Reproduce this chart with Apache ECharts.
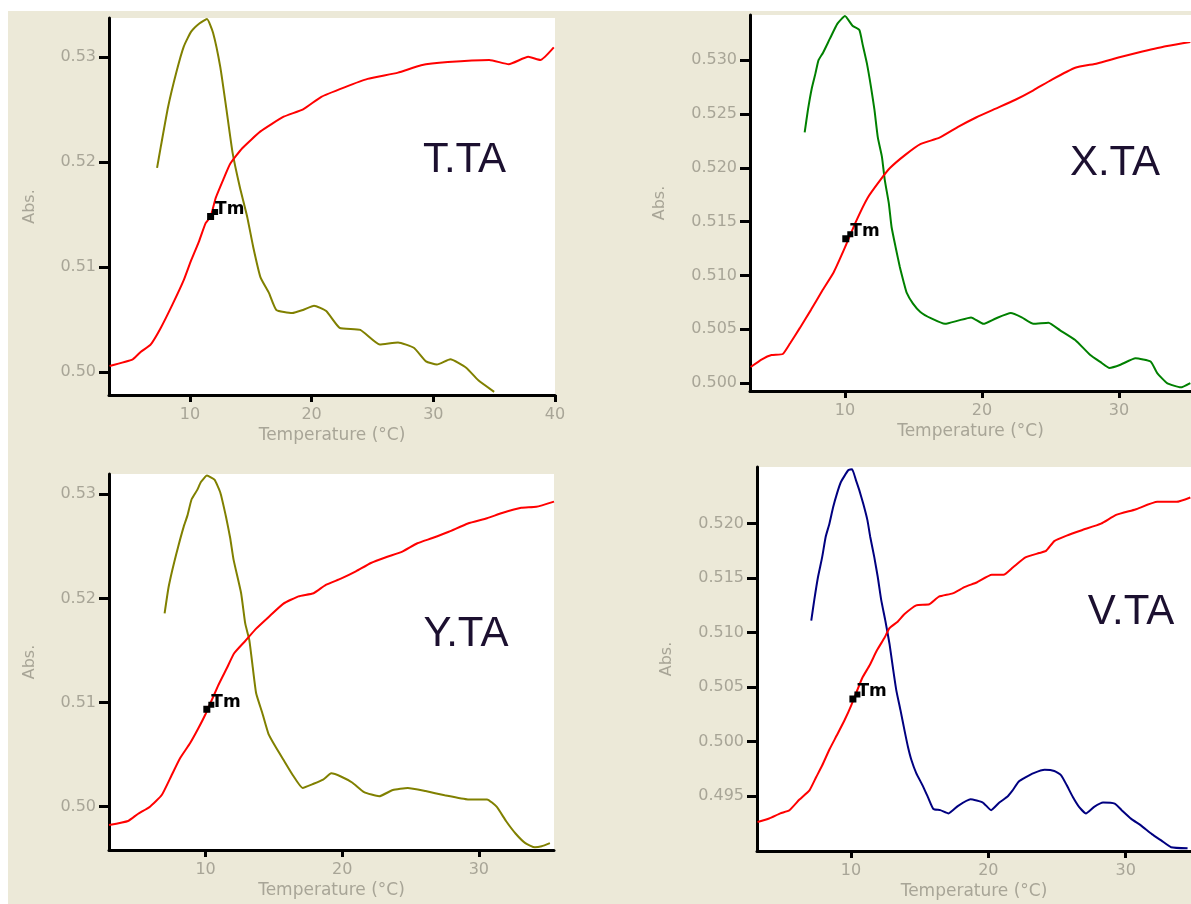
<!DOCTYPE html>
<html><head><meta charset="utf-8">
<script src="https://cdn.jsdelivr.net/npm/echarts@6/dist/echarts.min.js"></script>
<style>
html,body{margin:0;padding:0;background:#fff;width:1191px;height:904px;overflow:hidden}
#c{position:absolute;left:8px;top:11px;width:1183px;height:893px;background:#ECE9D8}
</style>
</head><body><div id="c"></div>
<script>
// ---------- data ----------
const panelNames = ['T.TA', 'X.TA', 'Y.TA', 'V.TA'];
const xAxisName = 'Temperature (°C)';
const yAxisName = 'Abs.';

const xTicks1 = [10, 20, 30, 40];
const xTicks2 = [10, 20, 30];
const xTicks3 = [10, 20, 30];
const xTicks4 = [10, 20, 30];
const yTicks1 = [0.50, 0.51, 0.52, 0.53];
const yTicks2 = [0.500, 0.505, 0.510, 0.515, 0.520, 0.525, 0.530];
const yTicks3 = [0.50, 0.51, 0.52, 0.53];
const yTicks4 = [0.495, 0.500, 0.505, 0.510, 0.515, 0.520];
const yDecimals = [2, 3, 2, 3];

const xRange1 = [3.35, 40], yRange1 = [0.4978, 0.5337];
const xRange2 = [3.07, 35.25], yRange2 = [0.49926, 0.5342];
const xRange3 = [2.93, 35.5], yRange3 = [0.49584, 0.53195];
const xRange4 = [3.16, 34.75], yRange4 = [0.48995, 0.5252];

// T.TA
const ttaMeltT = [3.4,5.3,5.95,6.77,7.59,8.55,9.5,10.06,10.74,11.29,11.7,12.11,12.79,13.3,14.3,15.8,17.7,19.3,20.8,22.7,24.6,27.1,29.0,31.2,34.6,36.2,37.8,38.8,39.9];
const ttaMeltA = [0.50057,0.5012,0.5019,0.5026,0.50416,0.50638,0.50876,0.5105,0.51241,0.51416,0.51479,0.51654,0.51845,0.5198,0.5213,0.5229,0.5243,0.5250,0.5262,0.5271,0.5279,0.5285,0.5292,0.5295,0.5297,0.5293,0.5300,0.5297,0.5309];
const ttaDerivT = [7.3,7.6,8.2,8.9,9.5,10.1,10.8,11.4,11.9,12.5,13.0,13.5,14.1,14.7,15.2,15.8,16.5,17.1,18.4,19.3,20.2,21.2,22.3,24.0,25.6,27.1,28.4,29.4,30.3,31.4,32.7,33.7,35.0];
const ttaDerivA = [0.51943,0.5214,0.5252,0.5286,0.5310,0.5324,0.5332,0.5336,0.5323,0.5290,0.5250,0.5209,0.5176,0.5148,0.5119,0.5090,0.5075,0.5059,0.5056,0.5059,0.5063,0.5058,0.5042,0.5040,0.5026,0.5028,0.5023,0.5010,0.5007,0.5012,0.5004,0.4992,0.4981];

// X.TA
const xtaMeltT = [3.12,3.94,4.64,5.46,6.0,6.7,7.52,8.35,9.18,10.0,10.8,11.65,12.6,13.3,14.4,15.5,16.9,18.25,19.6,21.0,22.4,23.75,25.1,26.8,28.4,30.1,31.7,33.4,35.2];
const xtaMeltA = [0.50149,0.5022,0.5026,0.5027,0.5037,0.5051,0.5068,0.5086,0.5103,0.5126,0.5150,0.5172,0.5189,0.5200,0.5212,0.5222,0.5228,0.5238,0.5247,0.5255,0.5263,0.5272,0.5282,0.5293,0.5297,0.5303,0.5308,0.5313,0.5317];
const xtaDerivT = [7.06,7.3,7.58,7.85,8.07,8.4,8.9,9.45,10.0,10.55,11.05,11.3,11.6,11.9,12.15,12.4,12.7,12.9,13.2,13.4,13.7,14.0,14.3,14.5,14.95,15.5,16.3,17.3,18.25,19.2,20.1,21.0,22.1,22.9,23.75,24.85,25.7,26.8,27.9,28.7,29.3,30.1,31.2,32.3,32.8,33.5,34.5,35.2];
const xtaDerivA = [0.5233,0.5254,0.5274,0.5288,0.5300,0.5307,0.5320,0.5334,0.5341,0.5332,0.5328,0.5314,0.5297,0.5275,0.5254,0.5228,0.5210,0.5189,0.5167,0.5145,0.5126,0.5108,0.5093,0.5084,0.5074,0.5066,0.5060,0.5055,0.5058,0.5061,0.5055,0.5060,0.5065,0.5061,0.5055,0.5056,0.5049,0.5040,0.5026,0.5019,0.5014,0.5017,0.5023,0.5020,0.5009,0.5000,0.4996,0.5000];

// Y.TA
const ytaMeltT = [2.93,4.33,5.04,5.93,6.79,7.52,8.13,8.86,9.47,10.0,10.94,11.55,12.09,12.9,13.7,14.6,15.7,16.8,17.9,18.8,19.9,21.0,22.1,23.3,24.4,25.5,26.6,27.8,29.2,30.6,31.7,33.1,34.2,35.5];
const ytaMeltA = [0.49824,0.49863,0.4993,0.5000,0.50112,0.50304,0.50465,0.50609,0.50753,0.5089,0.51169,0.51329,0.51473,0.51591,0.5171,0.5182,0.5195,0.5202,0.5205,0.5213,0.5219,0.5226,0.5234,0.5240,0.5245,0.5253,0.5258,0.5264,0.5272,0.5277,0.5282,0.5287,0.5288,0.5293];
const ytaDerivT = [7.0,7.28,7.56,7.84,8.12,8.4,8.68,8.97,9.38,9.67,10.1,10.65,11.07,11.5,11.8,12.05,12.6,12.9,13.2,13.45,13.7,14.15,14.6,15.1,15.7,16.4,17.1,17.9,18.6,19.2,19.9,20.75,21.6,22.7,23.7,24.8,26.1,27.5,29.2,30.6,31.3,32.0,32.7,33.4,34.1,34.6,35.2];
const ytaDerivA = [0.51857,0.5210,0.5227,0.5242,0.5256,0.5269,0.5280,0.5295,0.5304,0.5312,0.5318,0.5314,0.5302,0.5278,0.5258,0.5237,0.5205,0.5176,0.5160,0.5134,0.5109,0.5090,0.5070,0.5058,0.5045,0.5030,0.5018,0.5022,0.5026,0.5032,0.5029,0.5023,0.5014,0.5010,0.5016,0.5018,0.5015,0.5011,0.5007,0.5007,0.5000,0.4986,0.4974,0.4965,0.4961,0.4962,0.4965];

// V.TA
const vtaMeltT = [3.2,4.04,4.86,5.52,6.25,6.98,7.47,7.91,8.44,8.97,9.53,10.02,10.82,11.36,11.89,12.45,12.8,13.4,13.9,14.75,15.7,16.4,17.4,18.3,19.15,20.25,21.1,21.8,22.7,23.7,24.2,24.8,25.7,26.8,28.2,29.3,30.7,32.3,33.7,34.7];
const vtaMeltA = [0.49261,0.49293,0.4934,0.49369,0.49467,0.49552,0.49674,0.49782,0.49929,0.50057,0.50195,0.50332,0.50583,0.5070,0.50837,0.50954,0.5104,0.5110,0.5117,0.5125,0.5126,0.5133,0.5136,0.5142,0.5146,0.5153,0.5153,0.5160,0.5169,0.5173,0.5175,0.5184,0.5189,0.5194,0.5200,0.5208,0.5213,0.5220,0.5220,0.5224];
const vtaDerivT = [7.11,7.33,7.6,7.9,8.16,8.43,8.7,8.99,9.26,9.8,10.08,10.36,10.6,10.9,11.2,11.4,11.7,11.95,12.2,12.5,12.8,13.05,13.3,13.6,13.9,14.15,14.4,14.75,15.2,15.6,16.0,16.5,17.1,17.8,18.7,19.6,20.2,20.8,21.35,21.75,22.2,22.7,23.3,24.1,24.8,25.3,25.7,26.15,26.6,27.1,27.7,28.35,29.2,29.7,30.4,31.1,31.9,32.6,33.3,34.5];
const vtaDerivA = [0.5111,0.5130,0.5151,0.5169,0.5188,0.5200,0.5215,0.5228,0.5238,0.5249,0.5250,0.5240,0.5231,0.5218,0.5203,0.5188,0.5169,0.5151,0.5130,0.5111,0.5090,0.5068,0.5047,0.5029,0.5010,0.4995,0.4983,0.4971,0.4960,0.4949,0.4938,0.4937,0.4934,0.4941,0.4947,0.4944,0.4937,0.4944,0.4949,0.4955,0.4963,0.4967,0.4971,0.4974,0.4973,0.4969,0.4960,0.4949,0.4940,0.4934,0.4940,0.4944,0.4943,0.4937,0.4929,0.4923,0.4915,0.4909,0.4903,0.4902];

// Tm points (temperature, absorbance)
const tmLabel = 'Tm';
const tmT = [11.7, 10.06, 10.09, 10.14];
const tmA = [0.5148, 0.5134, 0.50935, 0.5039];

// ---------- layout / styles ----------
const derivColors = ['#808000', '#008000', '#808000', '#000080'];
const meltColor = '#ff0000';
const grids = [
  {left: 101, top: 7, width: 446, height: 377},
  {left: 742, top: 4, width: 441, height: 376},
  {left: 101, top: 463, width: 445, height: 376},
  {left: 749, top: 456, width: 434, height: 384}
];
const yNameGaps = [71, 82, 71, 82];
const titlePos = [[456.5, 149], [1107, 152.5], [458, 623.5], [1123, 601.5]];

const xTicksAll = [xTicks1, xTicks2, xTicks3, xTicks4];
const yTicksAll = [yTicks1, yTicks2, yTicks3, yTicks4];
const xRanges = [xRange1, xRange2, xRange3, xRange4];
const yRanges = [yRange1, yRange2, yRange3, yRange4];
const melts = [[ttaMeltT, ttaMeltA], [xtaMeltT, xtaMeltA], [ytaMeltT, ytaMeltA], [vtaMeltT, vtaMeltA]];
const derivs = [[ttaDerivT, ttaDerivA], [xtaDerivT, xtaDerivA], [ytaDerivT, ytaDerivA], [vtaDerivT, vtaDerivA]];

const zip = (a, b) => a.slice(0, Math.min(a.length, b.length)).map((v, i) => [v, b[i]]);
const labelColor = '#a8a597';
const font = 'DejaVu Sans';
// small square with a step leading up to the "T" of the Tm label
const tmSymbol = 'path://M0,5H5V1H11V7H7V12H0Z';

const option = {
  animation: false,
  backgroundColor: 'transparent',
  grid: grids.map(g => Object.assign({show: true, backgroundColor: '#ffffff', borderWidth: 0, containLabel: false}, g)),
  xAxis: grids.map((g, i) => ({
    type: 'value', gridIndex: i, min: xRanges[i][0], max: xRanges[i][1],
    name: xAxisName, nameLocation: 'middle', nameGap: 32,
    nameTextStyle: {color: labelColor, fontFamily: font, fontSize: 17},
    axisLine: {show: true, onZero: false, lineStyle: {color: '#000', width: 3}},
    axisTick: {show: true, length: 7, customValues: xTicksAll[i], lineStyle: {color: '#000', width: 3}},
    axisLabel: {customValues: xTicksAll[i], color: labelColor, fontFamily: font, fontSize: 16, margin: 12,
      formatter: v => String(Math.round(v))},
    splitLine: {show: false}
  })),
  yAxis: grids.map((g, i) => ({
    type: 'value', gridIndex: i, min: yRanges[i][0], max: yRanges[i][1],
    name: yAxisName, nameLocation: 'middle', nameGap: yNameGaps[i], nameRotate: 90,
    nameTextStyle: {color: labelColor, fontFamily: font, fontSize: 16},
    axisLine: {show: true, onZero: false, lineStyle: {color: '#000', width: 3}},
    axisTick: {show: true, length: 10, customValues: yTicksAll[i], lineStyle: {color: '#000', width: 3}},
    axisLabel: {customValues: yTicksAll[i], color: labelColor, fontFamily: font, fontSize: 16, margin: 13,
      formatter: v => Number(v).toFixed(yDecimals[i])},
    splitLine: {show: false}
  })),
  series: [],
  graphic: panelNames.map((n, i) => ({
    type: 'text', x: titlePos[i][0], y: titlePos[i][1], z: 100,
    style: {text: n, font: '42px "Liberation Sans"', fill: '#1c1030', align: 'center', verticalAlign: 'middle'}
  }))
};

for (let i = 0; i < 4; i++) {
  option.series.push({
    type: 'line', xAxisIndex: i, yAxisIndex: i, data: zip(derivs[i][0], derivs[i][1]),
    showSymbol: false, smooth: 0.15, lineStyle: {color: derivColors[i], width: 2}, z: 2
  });
  option.series.push({
    type: 'line', xAxisIndex: i, yAxisIndex: i, data: zip(melts[i][0], melts[i][1]),
    showSymbol: false, smooth: 0.15, lineStyle: {color: meltColor, width: 2}, z: 3,
    markPoint: {
      symbol: tmSymbol, symbolSize: [11, 11], symbolOffset: [2, -2], itemStyle: {color: '#000'},
      label: {show: true, formatter: tmLabel, position: 'right', distance: 0, offset: [-3, -5],
        color: '#000', fontFamily: font, fontWeight: 'bold', fontSize: 17},
      data: [{coord: [tmT[i], tmA[i]]}]
    }
  });
}

const chart = echarts.init(document.getElementById('c'), null, {renderer: 'canvas'});
chart.setOption(option);
</script>
</body></html>
